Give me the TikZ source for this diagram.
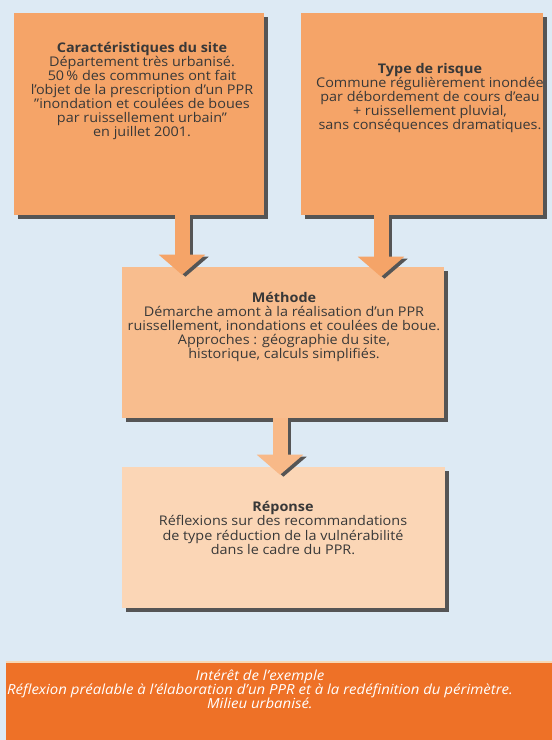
\documentclass[tikz,border=0pt]{standalone}
\usepackage{fontspec}
\setmainfont{Open Sans}[FakeStretch=1.08]
\usepackage{xcolor}
\usetikzlibrary{arrows.meta,positioning,shadows}
\definecolor{bgblue}{HTML}{DDEAF4}
\definecolor{orangea}{HTML}{F5A468}
\definecolor{orangeb}{HTML}{F8BD8E}
\definecolor{orangec}{HTML}{FBD6B6}
\definecolor{bandc}{HTML}{EE7127}
\definecolor{bandrule}{HTML}{F7D8B5}
\definecolor{shadowc}{HTML}{555555}
\definecolor{textc}{HTML}{383838}
\tikzset{
  box/.style={fill=orangea,draw=none,inner sep=0pt,
    drop shadow={shadow xshift=3pt,shadow yshift=-3pt,fill=shadowc,opacity=1}},
  boxb/.style={box,fill=orangeb},
  boxc/.style={box,fill=orangec},
  txt/.style={align=center,inner sep=0pt,text=textc,font=\fontsize{10}{10.6}\selectfont},
  flow/.style={-{Triangle[length=15pt,width=34pt]},line width=11.25pt,draw=orangea},
  flowb/.style={flow,draw=orangeb!85!orangea},
  flowsh/.style={draw=shadowc,transform canvas={shift={(2.6pt,-1.5pt)}}},
  band/.style={fill=bandc,inner sep=0pt},
  bandtxt/.style={txt,text=white,font=\fontsize{10.4}{10.6}\selectfont\itshape},
}
\begin{document}
\begin{tikzpicture}[x=0.75pt,y=-0.75pt]
  % background (552 x 740 px, y downwards)
  \fill[bgblue] (0,0) rectangle (552,740);
  \useasboundingbox (0,0) rectangle (552,740);
  % the two starting boxes
  \node[box,minimum width=187.5pt,minimum height=151.5pt] (site) at (139,114){};
  \node[box,minimum width=181.5pt,minimum height=151.5pt] (risque) at (422,114){};
  \node[txt] (siteT) at (142,91){\textbf{Caractéristiques du site}\\
    Département très urbanisé.\\
    50\,\% des communes ont fait\\
    l'objet de la prescription d'un PPR\\
    "inondation et coulées de boues\\
    par ruissellement urbain"\\
    en juillet 2001.};
  \node[txt] (risqueT) at (430,98){\textbf{Type de risque}\\
    Commune régulièrement inondée\\
    par débordement de cours d'eau\\
    + ruissellement pluvial,\\
    sans conséquences dramatiques.};
  % method and answer
  \node[boxb,minimum width=241.5pt,minimum height=113.25pt] (methode) at (283,342.5){};
  \node[txt] (methodeT) at (284,327){\textbf{Méthode}\\
    Démarche amont à la réalisation d'un PPR\\
    ruissellement, inondations et coulées de boue.\\
    Approches : géographie du site,\\
    historique, calculs simplifiés.};
  \node[boxc,minimum width=242.25pt,minimum height=105.75pt] (reponse) at (283,537.5){};
  \node[txt] (reponseT) at (283,528){\textbf{Réponse}\\
    Réflexions sur des recommandations\\
    de type réduction de la vulnérabilité\\
    dans le cadre du PPR.};
  % arrows: ends, then shadow + arrow
  \coordinate (a1) at ([xshift=32.25pt]site.south);
  \coordinate (b1) at ([xshift=-75.75pt,yshift=-6pt]methode.north);
  \coordinate (a2) at ([xshift=-30.75pt]risque.south);
  \coordinate (b2) at ([xshift=73.5pt,yshift=-7.5pt]methode.north);
  \coordinate (a3) at ([xshift=-2.25pt]methode.south);
  \coordinate (b3) at ([xshift=-2.25pt,yshift=-6pt]reponse.north);
  \foreach \s/\e/\f in {a1/b1/flow,a2/b2/flow,a3/b3/flowb}{
    \draw[\f,flowsh] (\s) -- (\e);
    \draw[\f] (\s) -- (\e);
  }
  % orange band at the bottom
  \node[band,minimum width=409.5pt,minimum height=58.5pt] (interet) at (279,701){};
  \draw[bandrule,line width=1.2pt] (interet.north west) -- (interet.north east);
  \node[bandtxt] (interetT) at (260,689){Intérêt de l'exemple\\
    Réflexion préalable à l'élaboration d'un PPR et à la redéfinition du périmètre.\\
    Milieu urbanisé.};
\end{tikzpicture}
\end{document}
